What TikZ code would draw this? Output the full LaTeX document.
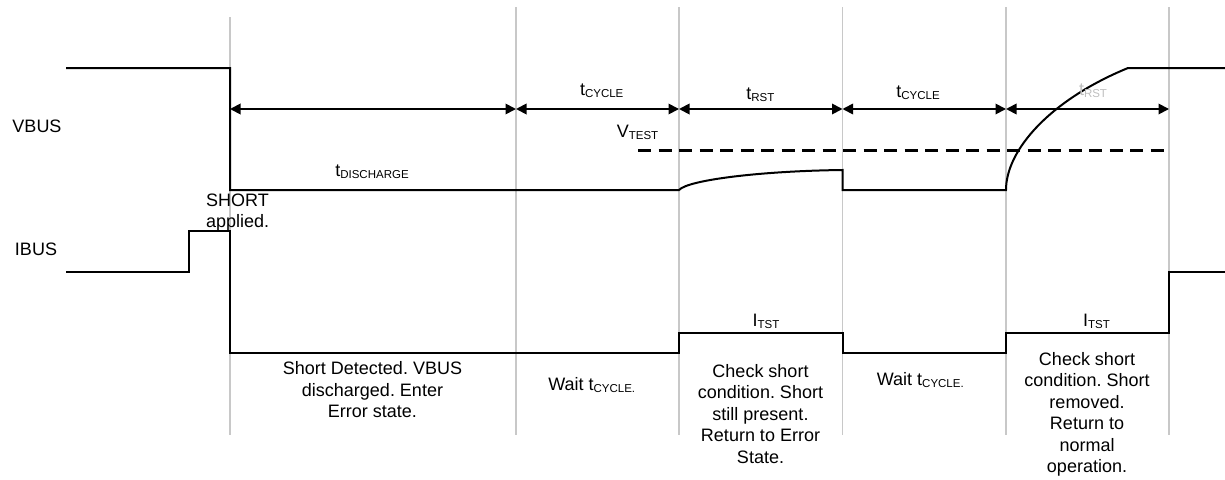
\documentclass[tikz,border=0pt]{standalone}
\usepackage{fontspec}
\setmainfont{Liberation Sans}
\usetikzlibrary{arrows.meta}
\definecolor{gridgray}{RGB}{200,200,200}
\definecolor{fadegray}{RGB}{190,190,190}
\newcommand\lsub[1]{\raisebox{-2pt}{\fontsize{11.5}{12}\selectfont #1}}
\frenchspacing
\begin{document}
\begin{tikzpicture}[x=1pt,y=-1pt,
  gridline/.style={draw=gridgray,line width=1.3pt},
  wave/.style={draw=black,line width=2pt,line join=miter},
  dimline/.style={draw=black,line width=1.8pt,{Triangle[length=10.5pt,width=10.5pt]}-{Triangle[length=10.5pt,width=10.5pt]}},
  vdash/.style={draw=black,line width=3pt,dash pattern=on 13pt off 7.5pt},
  lbl/.style={font=\fontsize{18}{21.4}\selectfont,inner sep=0pt,anchor=base},
  blk/.style={font=\fontsize{18}{21.4}\selectfont,inner sep=0pt,anchor=north,align=center,execute at begin node=\strut}]
\useasboundingbox (0,0) rectangle (1225,479);

% grid lines
\draw[gridline] (230,17) -- (230,435);
\draw[gridline] (516,7) -- (516,435);
\draw[gridline] (679,7) -- (679,435);
\draw[gridline] (842.5,7) -- (842.5,435);
\draw[gridline] (1006,7) -- (1006,435);
\draw[gridline] (1169,7) -- (1169,435);

% VBUS waveform
\draw[wave] (66,68) -- (230,68) -- (230,190) -- (679,190)
  .. controls (688,180) and (760,171) .. (842.5,170) -- (842.5,190) -- (1006,190)
  .. controls (1006,150) and (1050,100) .. (1128,68) -- (1226,68);

% IBUS waveform
\draw[wave] (66,272) -- (189,272) -- (189,231) -- (230,231) -- (230,353) -- (679,353)
  -- (679,333) -- (842.5,333) -- (842.5,353) -- (1006,353) -- (1006,333) -- (1169,333)
  -- (1169,272) -- (1226,272);

% V_TEST threshold
\coordinate (vt0) at (638,150);
\coordinate (vt1) at (1169,150);
\draw[vdash] (vt0) -- (vt1);

% dimension arrows
\coordinate (d0) at (230,109);
\coordinate (d1) at (516,109);
\coordinate (d2) at (679,109);
\coordinate (d3) at (842.5,109);
\coordinate (d4) at (1006,109);
\coordinate (d5) at (1169,109);
\draw[dimline] (d0) -- (d1);
\draw[dimline] (d1) -- (d2);
\draw[dimline] (d2) -- (d3);
\draw[dimline] (d3) -- (d4);
\draw[dimline] (d4) -- (d5);

% labels
\node[lbl] (vbus) at (37,132.7) {VBUS};
\node[lbl] (ibus) at (36,255) {IBUS};
\node[lbl] (tdis) at (372,176.7) {t\lsub{DISCHARGE}};
\node[blk,anchor=north west,align=left] (short) at (206,193.3) {SHORT\\applied.};
\node[lbl] (tcyc1) at (601.7,95) {t\lsub{CYCLE}};
\node[lbl] (trst1) at (760.3,99) {t\lsub{RST}};
\node[lbl] (vtest) at (637.5,137.3) {V\lsub{TEST}};
\node[lbl] (tcyc2) at (918,97) {t\lsub{CYCLE}};
\node[lbl,text=fadegray] (trst2) at (1093,95) {t\lsub{RST}};
\node[lbl] (itst1) at (766,326) {I\lsub{TST}};
\node[lbl] (itst2) at (1096.5,326) {I\lsub{TST}};

% state descriptions
\node[blk] (desc1) at (372.5,361.7) {Short Detected. VBUS\\discharged. Enter\\Error state.};
\node[lbl] (wait1) at (591.7,390.7) {Wait t\lsub{CYCLE.}};
\node[blk] (check1) at (760.5,364.3) {Check short\\condition. Short\\still present.\\Return to Error\\State.};
\node[lbl] (wait2) at (920.3,385) {Wait t\lsub{CYCLE.}};
\node[blk] (check2) at (1087,352.3) {Check short\\condition. Short\\removed.\\Return to\\normal\\operation.};
\end{tikzpicture}
\end{document}
